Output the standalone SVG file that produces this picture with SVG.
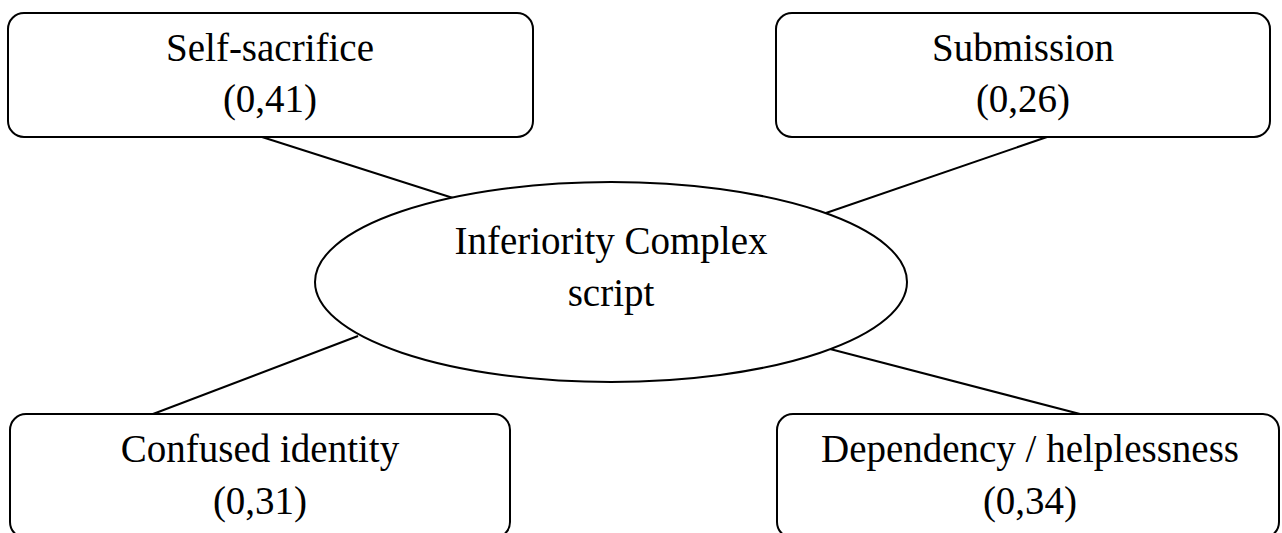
<svg xmlns="http://www.w3.org/2000/svg" width="1282" height="533" viewBox="0 0 1282 533">
<style>
.box{fill:#fff;stroke:#000;stroke-width:2}
.t{font-family:"Liberation Serif","Times New Roman",serif;font-size:39px;fill:#000;text-anchor:middle}
.c{stroke:#000;stroke-width:2;fill:none}
</style>
<rect width="1282" height="533" fill="#fff"/>
<g id="connectors">
<line class="c" x1="262" y1="137" x2="453" y2="198"/>
<line class="c" x1="1047" y1="137" x2="826" y2="213"/>
<line class="c" x1="358" y1="336" x2="153" y2="414"/>
<line class="c" x1="830" y1="349" x2="1080" y2="414"/>
</g>
<g id="n-self">
<rect class="box" x="8" y="13" width="525" height="124" rx="16"/>
<text class="t" x="270" y="61">Self-sacrifice</text>
<text class="t" x="270" y="112">(0,41)</text>
</g>
<g id="n-sub">
<rect class="box" x="776" y="13" width="494" height="124" rx="16"/>
<text class="t" x="1023" y="61">Submission</text>
<text class="t" x="1023" y="112">(0,26)</text>
</g>
<g id="n-center">
<ellipse class="box" cx="611" cy="282" rx="296" ry="100"/>
<text class="t" x="611" y="254">Inferiority Complex</text>
<text class="t" x="611" y="306">script</text>
</g>
<g id="n-conf">
<rect class="box" x="10" y="414" width="500" height="124" rx="16"/>
<text class="t" x="260" y="462">Confused identity</text>
<text class="t" x="260" y="514">(0,31)</text>
</g>
<g id="n-dep">
<rect class="box" x="777" y="414" width="502" height="124" rx="16"/>
<text class="t" x="1030" y="462">Dependency / helplessness</text>
<text class="t" x="1030" y="514">(0,34)</text>
</g>
</svg>
